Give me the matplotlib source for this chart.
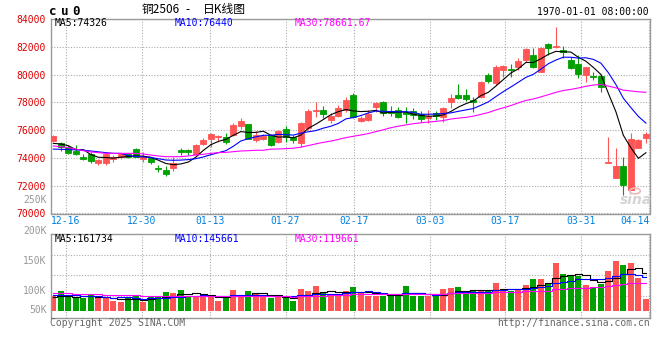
import numpy as np
import pandas as pd
import matplotlib
matplotlib.use("Agg")
import matplotlib.pyplot as plt

# cu0 daily candles, 80 sessions (12-12 .. 04-11)
opens = [75240, 75050, 74760, 74520, 74040, 74260, 73660, 73660, 73950, 74040,
         74280, 74640, 73950, 73970, 73300, 73130, 73250, 74570, 74560, 74280,
         75000, 75340, 75530, 75530, 75650, 76300, 76420, 75300, 75370, 75650,
         75170, 76060, 75480, 75100, 76130, 77380, 77450, 76730, 77020, 77450,
         78530, 76690, 76730, 77690, 78050, 77400, 77450, 77330, 77400, 77160,
         76850, 77260, 76970, 78000, 78530, 78530, 78170, 78410, 79970, 79370,
         80330, 80400, 80570, 81050, 81410, 80210, 82180, 82020, 81800, 81050,
         80740, 79970, 79900, 79920, 73640, 72580, 73440, 71700, 74740, 75460]
highs = [75620, 75120, 74930, 74930, 74260, 74450, 73950, 74330, 74210, 74380,
         74380, 74690, 74400, 74090, 73490, 73420, 74040, 74690, 74640, 74990,
         75410, 75820, 75650, 75820, 76490, 76850, 76470, 75960, 75720, 75720,
         76010, 76300, 75650, 76610, 77500, 78000, 77740, 77210, 77800, 78410,
         78700, 77020, 77450, 78050, 78100, 77740, 77690, 77690, 77570, 77400,
         77450, 77400, 77690, 78580, 79300, 78960, 78410, 79540, 80090, 80690,
         80690, 80740, 81170, 81890, 81940, 82010, 82250, 83450, 82080, 81290,
         81410, 80570, 80160, 80020, 75530, 74690, 74090, 75770, 75360, 75840]
lows = [75200, 74520, 74280, 74210, 73850, 73610, 73520, 73520, 73680, 73900,
        73980, 74040, 73730, 73560, 73010, 72700, 73080, 74210, 74210, 74210,
        74930, 74760, 75170, 75000, 75550, 76060, 75340, 75170, 75290, 74860,
        75100, 75170, 75100, 74760, 76010, 76970, 76900, 76540, 76920, 77330,
        76850, 76610, 76660, 77330, 77020, 77020, 76850, 76540, 76780, 76610,
        76540, 76730, 76610, 77620, 78240, 78100, 77280, 78340, 79370, 79250,
        79850, 79850, 80330, 80880, 80500, 80160, 81410, 81940, 81170, 80400,
        79780, 79490, 79610, 78720, 73620, 72580, 71330, 71700, 74690, 75050]
closes = [75580, 74810, 74380, 74290, 73930, 73800, 73850, 74260, 74090, 74260,
          74040, 74090, 74140, 73730, 73190, 72850, 73660, 74400, 74430, 74930,
          75290, 75700, 75600, 75170, 76370, 76640, 75370, 75650, 75580, 74930,
          75960, 75480, 75290, 76540, 77400, 77450, 77160, 77020, 77620, 78170,
          76970, 76900, 77140, 77930, 77210, 77260, 76970, 77160, 77090, 76780,
          77020, 77020, 77570, 78340, 78340, 78250, 78000, 79490, 79540, 80570,
          80620, 80340, 81000, 81820, 80570, 81940, 81940, 82080, 81650, 80500,
          80020, 80570, 79830, 79130, 73680, 73440, 72050, 75380, 75290, 75700]
volumes = [64400, 85900, 64400, 54500, 57100, 68700, 57100, 54500, 42900, 39900,
           57100, 64400, 39900, 61400, 61400, 82900, 78600, 90200, 61400, 64400,
           61400, 58800, 44200, 61400, 90200, 68700, 85900, 73000, 61400, 54500,
           64400, 54500, 44200, 94400, 87100, 107300, 76000, 73000, 68700, 87100,
           104300, 76000, 64400, 64400, 64400, 68700, 73000, 107300, 64400, 64400,
           64400, 64400, 95700, 97500, 104300, 71700, 85900, 90200, 90200, 118900,
           90200, 85900, 94400, 111600, 137400, 137400, 118900, 204800, 157600, 154500,
           151500, 111600, 97500, 114600, 171700, 214700, 197500, 204800, 140400, 51500]

# averages at the left edge, where their history is off the chart
price_ma5_head = [75050, 75000, 74880, 74600]
price_ma10_head = [74640, 74620, 74600, 74580, 74560, 74500, 74440, 74380, 74330]
price_ma30_head = [74860, 74810, 74740, 74640, 74520, 74430, 74380, 74330, 74330, 74330,
                   74330, 74330, 74280, 74210, 74140, 74090, 74090, 74090, 74140, 74210,
                   74260, 74330, 74380, 74400, 74450, 74500, 74520, 74550, 74550]
vol_ma5_head = [61400, 63100, 64400, 61400]
vol_ma10_head = [68700, 68700, 68700, 67400, 65700, 64400, 63100, 61400, 57100]
vol_ma30_head = [78600, 77300, 76000, 75100, 74200, 72900, 71700, 70800, 69900, 69100,
                 68200, 67400, 66500, 65700, 65200, 64800, 64400, 64400, 64000, 64000,
                 63500, 63500, 63100, 63100, 63100, 63500, 63500, 63500, 63500]

date_labels = ['12-16', '12-30', '01-13', '01-27', '02-17', '03-03', '03-17', '03-31', '04-14']
date_offsets = [0, 10, 19, 29, 38, 48, 58, 68, 77]   # trading days after 12-16
price_ticks = [70000, 72000, 74000, 76000, 78000, 80000, 82000, 84000]
vol_labels = ['250K', '200K', '150K', '100K', '50K']

RED = '#ff5555'
GREEN = '#00a000'
GRID = '#aaaaaa'
FRAME = '#999999'
MONO = 'DejaVu Sans Mono'
CJK = ['Noto Sans CJK SC', 'DejaVu Sans']
W, H = 660, 360


def moving_avg(values, n, head):
    ma = pd.Series(values, dtype=float).rolling(n).mean().to_numpy()
    ma[:len(head)] = head
    return ma


def px_text(x, y, s, **kw):
    kw.setdefault('family', MONO)
    kw.setdefault('fontsize', 7)
    fig.text(x / W, 1 - y / H, s, **kw)


o = np.array(opens); c = np.array(closes)
x = np.arange(len(c))
colors = np.where(c >= o, RED, GREEN)
grid_x = 1.653 + np.array(date_offsets) * 7.58 / 7.5

fig = plt.figure(figsize=(W / 100, H / 100), dpi=100)
ax = fig.add_axes([50.7 / W, 1 - 213.5 / H, 599.3 / W, 194.5 / H])
axv = fig.add_axes([50.7 / W, 1 - 317.7 / H, 599.3 / W, 83.4 / H])

# ---- price panel
ax.vlines(x, lows, highs, colors=colors, lw=0.8, zorder=2)
ax.bar(x, np.abs(c - o), bottom=np.minimum(o, c), width=0.8, color=colors,
       edgecolor=colors, linewidth=0.6, zorder=3)
ax.plot(x, moving_avg(closes, 5, price_ma5_head), color='black', lw=0.8, zorder=4)
ax.plot(x, moving_avg(closes, 10, price_ma10_head), color='#0000ff', lw=0.8, zorder=4)
ax.plot(x, moving_avg(closes, 30, price_ma30_head), color='#ff00ff', lw=0.8, zorder=4)

ax.set_xlim(-0.35, 79.55)
ax.set_ylim(70000, 84000)
ax.set_yticks(price_ticks)
ax.set_yticklabels([str(t) for t in price_ticks], color='#dd0000', family=MONO, fontsize=7)
ax.set_xticks(grid_x)
ax.set_xticklabels([])
ax.tick_params(length=0, pad=3.3)

# date labels under the price panel
for gx, lab in zip(grid_x, date_labels):
    ha = 'center'
    if gx > 78:
        gx, ha = 79.5, 'right'
    ax.text(gx, -0.037, lab, transform=ax.get_xaxis_transform(), ha=ha, va='center',
            color='#0080e0', family=MONO, fontsize=7)

# ---- volume panel
axv.bar(x, volumes, width=0.8, color=colors, zorder=2)
for n, head, col in ((5, vol_ma5_head, 'black'), (10, vol_ma10_head, '#0000ff'),
                     (30, vol_ma30_head, '#ff00ff')):
    axv.plot(x, moving_avg(volumes, n, head), color=col, lw=0.8,
             drawstyle='steps-mid', zorder=4)
axv.set_xlim(-0.35, 79.55)
vlo, vhi = -28800, 329300
axv.set_ylim(vlo, vhi)
axv.set_xticks(grid_x)
axv.set_yticks([vlo + f * (vhi - vlo) for f in (0.264, 0.512, 0.752)])
axv.set_xticklabels([])
axv.set_yticklabels([])
axv.tick_params(length=0)

for a in (ax, axv):
    a.grid(True, color=GRID, lw=0.8, linestyle=(0, (1, 1.5)), zorder=0)
    a.set_axisbelow(True)
    for s in a.spines.values():
        s.set_color(FRAME)
        s.set_linewidth(1.0)

# volume axis labels (placed as the source draws them)
for lab, yy in zip(vol_labels, [200.3, 231, 261, 290.5, 310.3]):
    px_text(46.5, yy, lab, ha='right', va='center', color='#999999')

# ---- header and footer texts
for ch, cx in zip('cu0', (53, 64.7, 76.4)):
    px_text(cx, 11.5, ch, ha='center', va='center', fontsize=9, weight='bold')
px_text(141.5, 10, '铜2506', ha='left', va='center', family=CJK, fontsize=8.5)
px_text(187.5, 10, '-', ha='center', va='center', family=CJK, fontsize=8.5)
px_text(202.5, 10, '日K线图', ha='left', va='center', family=CJK, fontsize=8.5)
px_text(649, 12, '1970-01-01 08:00:00', ha='right', va='center')

px_text(55, 23.5, 'MA5:74326', ha='left', va='center', color='black')
px_text(175, 23.5, 'MA10:76440', ha='left', va='center', color='#0000ff')
px_text(295, 23.5, 'MA30:78661.67', ha='left', va='center', color='#ff00ff')
px_text(55, 238.5, 'MA5:161734', ha='left', va='center', color='black')
px_text(175, 238.5, 'MA10:145661', ha='left', va='center', color='#0000ff')
px_text(295, 238.5, 'MA30:119661', ha='left', va='center', color='#ff00ff')

px_text(50, 323.5, 'Copyright 2025 SINA.COM', ha='left', va='center', color='#666666')
px_text(649.5, 323.5, 'http://finance.sina.com.cn', ha='right', va='center', color='#666666')

# sina watermark
px_text(636, 200, 'sina', ha='center', va='center', family='DejaVu Sans',
        fontsize=10, style='italic', weight='bold', color='#d4d4d4')
fig.add_artist(plt.Circle((635 / W, 1 - 191 / H), 0.008, transform=fig.transFigure,
                          fill=False, color='#f2b8b8', lw=1.2))

fig.savefig('out.png', dpi=100)
